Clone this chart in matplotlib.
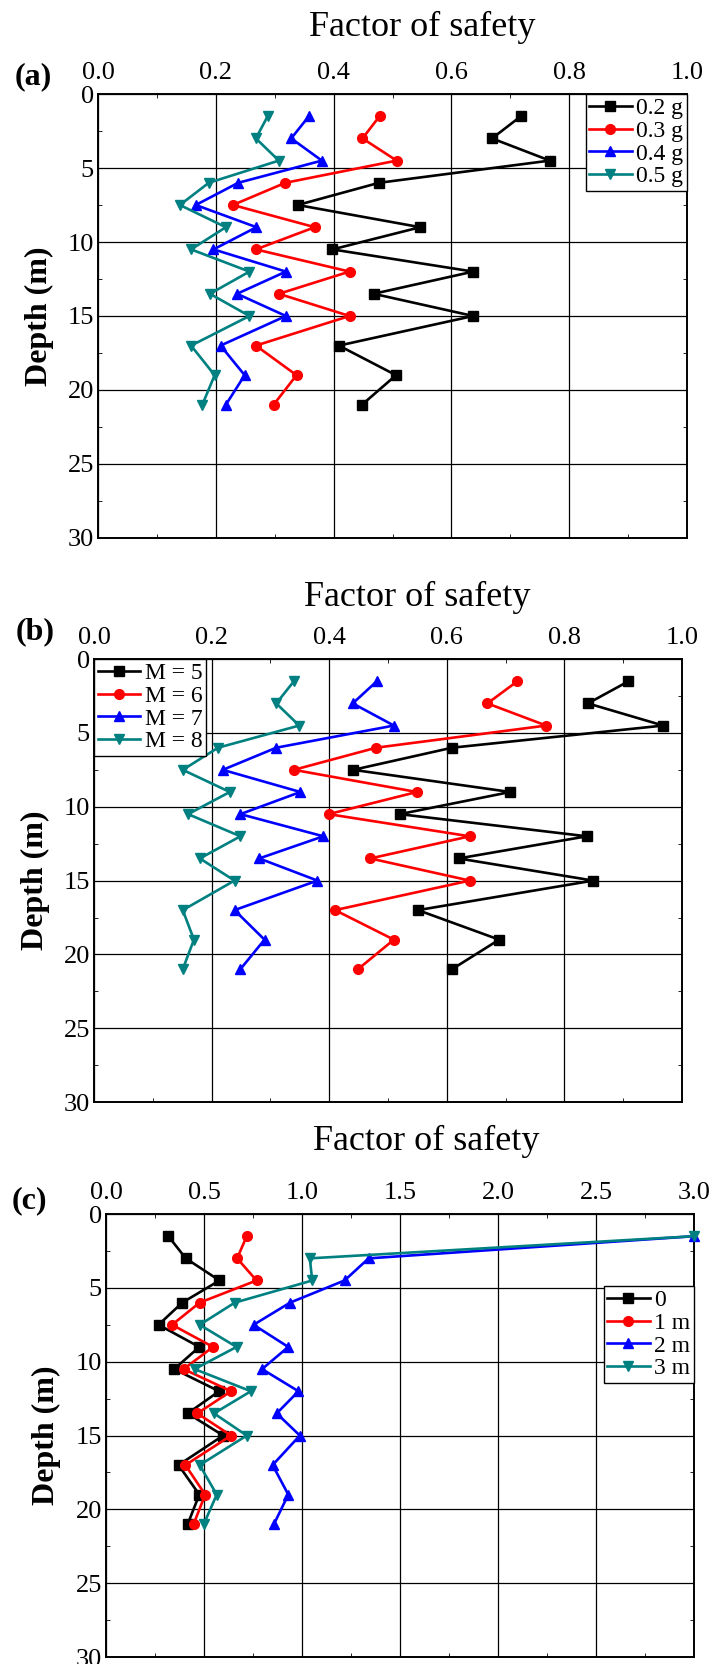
import matplotlib
matplotlib.use("Agg")
import matplotlib.pyplot as plt
from matplotlib.ticker import MultipleLocator

plt.rcParams['font.family'] = ['Liberation Serif', 'DejaVu Serif']

depth = [1.5, 3, 4.5, 6, 7.5, 9, 10.5, 12, 13.5, 15, 17, 19, 21]

# (a) peak ground acceleration
labels_a = ['0.2 g', '0.3 g', '0.4 g', '0.5 g']
fs_a_02 = [0.718, 0.669, 0.767, 0.477, 0.339, 0.547, 0.398, 0.637, 0.468, 0.637, 0.409, 0.506, 0.448]
fs_a_03 = [0.478, 0.449, 0.507, 0.318, 0.229, 0.368, 0.268, 0.427, 0.307, 0.427, 0.268, 0.337, 0.298]
fs_a_04 = [0.358, 0.328, 0.380, 0.238, 0.166, 0.269, 0.196, 0.319, 0.236, 0.319, 0.208, 0.249, 0.217]
fs_a_05 = [0.288, 0.268, 0.307, 0.188, 0.139, 0.217, 0.158, 0.257, 0.190, 0.257, 0.158, 0.198, 0.177]

# (b) magnitude
labels_b = ['M = 5', 'M = 6', 'M = 7', 'M = 8']
fs_b_5 = [0.909, 0.840, 0.968, 0.609, 0.441, 0.708, 0.520, 0.838, 0.620, 0.849, 0.551, 0.689, 0.609]
fs_b_6 = [0.720, 0.669, 0.769, 0.480, 0.340, 0.549, 0.399, 0.639, 0.470, 0.639, 0.410, 0.510, 0.449]
fs_b_7 = [0.481, 0.440, 0.510, 0.310, 0.219, 0.351, 0.249, 0.390, 0.281, 0.380, 0.239, 0.290, 0.249]
fs_b_8 = [0.340, 0.310, 0.349, 0.211, 0.151, 0.231, 0.160, 0.249, 0.180, 0.239, 0.151, 0.170, 0.151]

# (c) water table depth
labels_c = ['0', '1 m', '2 m', '3 m']
fs_c_0 = [0.318, 0.407, 0.579, 0.389, 0.268, 0.476, 0.348, 0.577, 0.417, 0.598, 0.370, 0.476, 0.417]
fs_c_1 = [0.718, 0.669, 0.768, 0.478, 0.337, 0.546, 0.396, 0.638, 0.466, 0.638, 0.405, 0.506, 0.447]
fs_c_2 = [3.0, 1.340, 1.217, 0.939, 0.753, 0.930, 0.796, 0.982, 0.871, 0.989, 0.850, 0.930, 0.857]
fs_c_3 = [3.0, 1.040, 1.052, 0.657, 0.478, 0.666, 0.452, 0.739, 0.551, 0.718, 0.478, 0.565, 0.499]

colors = ['black', 'red', 'blue', '#008080']
markers = ['s', 'o', '^', 'v']

fig = plt.figure(figsize=(7.24, 16.64), dpi=100)


def panel(rect, series, labels, xmax, xstep, tag, tag_xy, title_xy, ylab_x, legend_kw):
    ax = fig.add_axes(rect)
    for vals, lab, c, m in zip(series, labels, colors, markers):
        ax.plot(vals, depth, color=c, marker=m, markersize=7, lw=1.9,
                label=lab, clip_on=False, zorder=3)
    ax.set_xlim(0, xmax)
    ax.set_ylim(30, 0)
    ax.xaxis.set_major_locator(MultipleLocator(xstep))
    ax.xaxis.set_minor_locator(MultipleLocator(xstep / 2))
    ax.yaxis.set_major_locator(MultipleLocator(5))
    ax.yaxis.set_minor_locator(MultipleLocator(2.5))
    ax.xaxis.tick_top()
    ax.tick_params(which='both', direction='in', top=True, bottom=True,
                   left=True, right=True, labelsize=19)
    ax.tick_params(axis='x', pad=7)
    ax.tick_params(axis='y', pad=3)
    ax.tick_params(which='major', length=0)
    ax.tick_params(which='minor', length=3)
    ax.grid(True, which='major', color='black', lw=0.9)
    for s in ax.spines.values():
        s.set_linewidth(1.4)
    ax.text(title_xy[0], title_xy[1], 'Factor of safety', transform=ax.transAxes,
            fontsize=26, ha='center', va='center')
    ax.set_ylabel('Depth (m)', fontsize=23, fontweight='bold')
    ax.yaxis.set_label_coords(ylab_x, 0.5)
    ax.text(tag_xy[0], tag_xy[1], tag, transform=ax.transAxes, fontsize=23,
            fontweight='bold', ha='center', va='center')
    leg = ax.legend(fontsize=17, fancybox=False, framealpha=1,
                    edgecolor='black', handlelength=1.8, handletextpad=0.2,
                    labelspacing=0.05, borderpad=0.15, borderaxespad=0,
                    **legend_kw)
    leg.get_frame().set_linewidth(1.0)
    return ax


panel([0.1354, 0.6767, 0.8135, 0.2668],
      [fs_a_02, fs_a_03, fs_a_04, fs_a_05], labels_a, 1.0, 0.2, '(a)',
      (-0.11, 1.04), (0.55, 1.15), -0.075, dict(loc='upper right'))
panel([0.1298, 0.3377, 0.8122, 0.2662],
      [fs_b_5, fs_b_6, fs_b_7, fs_b_8], labels_b, 1.0, 0.2, '(b)',
      (-0.10, 1.062), (0.55, 1.14), -0.075, dict(loc='upper left'))
panel([0.1464, 0.0042, 0.8122, 0.2662],
      [fs_c_0, fs_c_1, fs_c_2, fs_c_3], labels_c, 3.0, 0.5, '(c)',
      (-0.13, 1.03), (0.545, 1.165), -0.077,
      dict(loc='upper right', bbox_to_anchor=(1.0, 0.837)))

fig.savefig('out.png', dpi=100)
